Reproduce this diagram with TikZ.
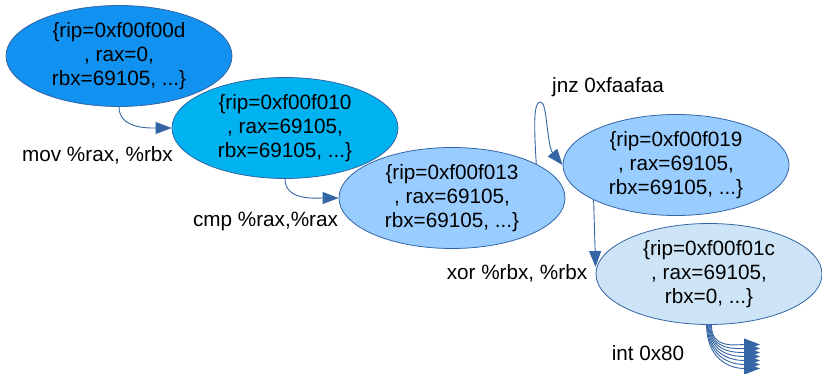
\documentclass[tikz,border=0pt]{standalone}
\usepackage{fontspec}
\setmainfont{Liberation Sans}
\usetikzlibrary{arrows.meta,shapes.geometric}

\definecolor{stateA}{RGB}{17,145,240}
\definecolor{stateB}{RGB}{0,178,240}
\definecolor{stateC}{RGB}{153,204,255}
\definecolor{stateD}{RGB}{204,228,245}
\definecolor{flowblue}{RGB}{52,101,164}

\tikzset{
  state/.style={ellipse, draw=flowblue, line width=0.8pt, inner sep=0pt,
    minimum width=226pt, minimum height=101pt, align=center,
    font=\fontsize{20.7pt}{24pt}\selectfont},
  lbl/.style={inner sep=0pt, font=\fontsize{20.7pt}{24pt}\selectfont},
  flow/.style={draw=flowblue, line width=0.9pt,
    -{Triangle[length=16pt,width=12pt]}, fill=none},
}

\begin{document}
\begin{tikzpicture}[x=1pt,y=-1pt]
  \useasboundingbox (0,0) rectangle (822,374);

  % machine states, one per instruction step
  \node[state, fill=stateA] (e1) at (119,56)  {\{rip=0xf00f00d\\, rax=0,\\rbx=69105, ...\}};
  \node[state, fill=stateB] (e2) at (285,128) {\{rip=0xf00f010\\, rax=69105,\\rbx=69105, ...\}};
  \node[state, fill=stateC] (e3) at (452,198) {\{rip=0xf00f013\\, rax=69105,\\rbx=69105, ...\}};
  \node[state, fill=stateC] (e4) at (676,165) {\{rip=0xf00f019\\, rax=69105,\\rbx=69105, ...\}};
  \node[state, fill=stateD] (e5) at (709,274) {\{rip=0xf00f01c\\, rax=69105,\\rbx=0, ...\}};

  % instruction labels
  \node[lbl] (l1) at (97.5,155) {mov \%rax, \%rbx};
  \node[lbl] (l2) at (265.5,221) {cmp \%rax,\%rax};
  \node[lbl] (l3) at (608,87)   {jnz 0xfaafaa};
  \node[lbl] (l4) at (517,273)  {xor \%rbx, \%rbx};
  \node[lbl] (l5) at (648,353)  {int 0x80};

  % transitions
  \draw[flow] (e1.south) to[out=-90,in=180] (e2.west);
  \draw[flow] (e2.south) to[out=-90,in=180] (e3.west);
  \draw[flow] (e3.22) .. controls (533,112) and (535,102) .. (541,102)
                      .. controls (547,102) and (547,146) .. (e4.west);
  \draw[flow] (e4.203) -- ([yshift=7pt]e5.west);

  % system call fans out to many successors
  \foreach \i in {0,...,6} {
    \coordinate (o\i) at (760,{344.5+4*\i});
    \draw[flow] ([xshift={2.4pt-0.8pt*\i}]e5.south) to[out=-90,in=180,looseness=1.2] (o\i);
  }
\end{tikzpicture}
\end{document}
